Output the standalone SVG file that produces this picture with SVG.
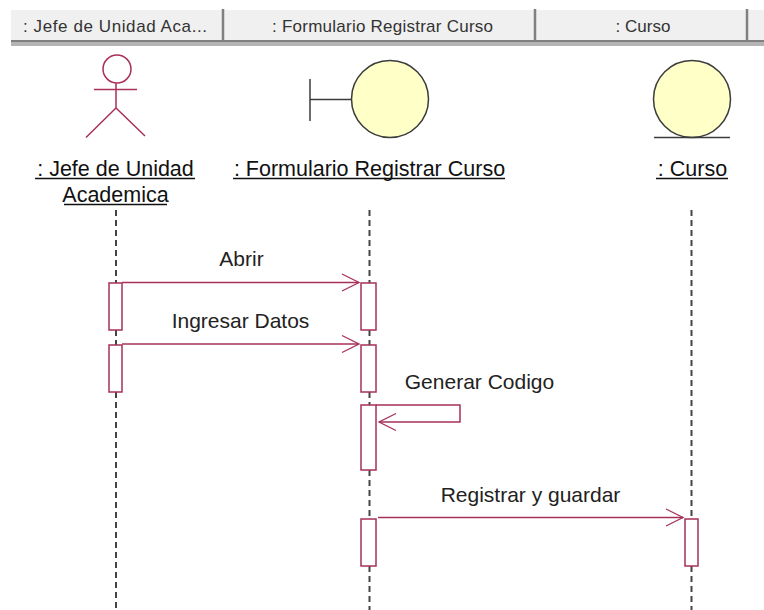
<svg xmlns="http://www.w3.org/2000/svg" width="764" height="610" viewBox="0 0 764 610">
<defs>
<marker id="open" markerUnits="userSpaceOnUse" markerWidth="20" markerHeight="20" refX="18" refY="10" orient="auto"><path d="M1 1.500L18 10L1 18.500" fill="none" stroke="#a8305a" stroke-width="1.300"/></marker>
</defs>
<style>
.hb{fill:#f0f0f0}
.sep{stroke:#808080;stroke-width:2.500}
.ht{font:17px "Liberation Sans",Arial,sans-serif;fill:#333;text-anchor:middle}
.nt{font:21.500px "Liberation Sans",Arial,sans-serif;fill:#111;text-anchor:middle}
.ml{font:21px "Liberation Sans",Arial,sans-serif;fill:#222;text-anchor:middle}
.ul{stroke:#111;stroke-width:1.300}
.ent{fill:#ffffc8;stroke:#3c3c3c;stroke-width:1.500}
.dk{stroke:#3c3c3c;stroke-width:1.500;fill:none}
.act{stroke:#a8305a;stroke-width:1.500;fill:none}
.life{stroke:#444;stroke-width:2;stroke-dasharray:6 4;fill:none}
.bar{fill:#fff;stroke:#a8305a;stroke-width:1.500}
.msg{stroke:#a8305a;stroke-width:1.500;fill:none;marker-end:url(#open)}
</style>
<rect width="764" height="610" fill="#fff"/>
<g id="header">
<rect class="hb" x="11" y="10" width="753" height="31"/>
<rect x="11" y="40" width="753" height="2" fill="#808080"/>
<rect x="11" y="42" width="753" height="4" fill="#b4b4b4"/>
<path class="sep" d="M223 9V41M535 9V41M747 9V41"/>
<text class="ht" x="115" y="32" textLength="184">: Jefe de Unidad Aca...</text>
<text class="ht" x="382.500" y="32" textLength="221">: Formulario Registrar Curso</text>
<text class="ht" x="643" y="32">: Curso</text>
</g>
<g id="connectors">
<path class="life" d="M116 210V283M116 330V345M116 392V610"/>
<path class="life" d="M369.500 210V283M369.500 330V345M369.500 392V405M369.500 470V520M369.500 566V610"/>
<path class="life" d="M691.500 210V520M691.500 566V610"/>
</g>
<g id="actor-jefe">
<circle class="act" cx="117" cy="69" r="14"/>
<path class="act" d="M94 89.500H137M116 83V108L86 137.500M116 108L145 136"/>
<text class="nt" x="115.500" y="176">: Jefe de Unidad</text>
<line class="ul" x1="35" y1="178.500" x2="195" y2="178.500"/>
<text class="nt" x="115.500" y="202">Academica</text>
<line class="ul" x1="64" y1="204.500" x2="167" y2="204.500"/>
</g>
<g id="boundary-formulario">
<path class="dk" d="M310 79V121M310 99.500H351"/>
<circle class="ent" cx="390" cy="99" r="38.500"/>
<text class="nt" x="369.500" y="176">: Formulario Registrar Curso</text>
<line class="ul" x1="233" y1="178.500" x2="505" y2="178.500"/>
</g>
<g id="entity-curso">
<circle class="ent" cx="692" cy="99" r="38.500"/>
<line class="dk" x1="654" y1="137.500" x2="730" y2="137.500"/>
<text class="nt" x="692.500" y="176">: Curso</text>
<line class="ul" x1="656" y1="178.500" x2="728" y2="178.500"/>
</g>
<g id="activations">
<rect class="bar" x="109" y="283" width="13" height="47"/>
<rect class="bar" x="109" y="345" width="13" height="47"/>
<rect class="bar" x="361" y="283" width="15" height="47"/>
<rect class="bar" x="361" y="345" width="15" height="47"/>
<rect class="bar" x="361" y="405" width="15" height="65"/>
<rect class="bar" x="361" y="519" width="15" height="47"/>
<rect class="bar" x="685" y="519" width="13" height="47"/>
</g>
<g id="messages">
<path class="msg" d="M122 282.500H359"/>
<text class="ml" x="241.500" y="266">Abrir</text>
<path class="msg" d="M122 344H359"/>
<text class="ml" x="240.500" y="327.500">Ingresar Datos</text>
<path class="msg" d="M376 405H460V422H379"/>
<text class="ml" x="479.500" y="388.500">Generar Codigo</text>
<path class="msg" d="M378 517.500H683"/>
<text class="ml" x="530.500" y="501.500">Registrar y guardar</text>
</g>
</svg>
